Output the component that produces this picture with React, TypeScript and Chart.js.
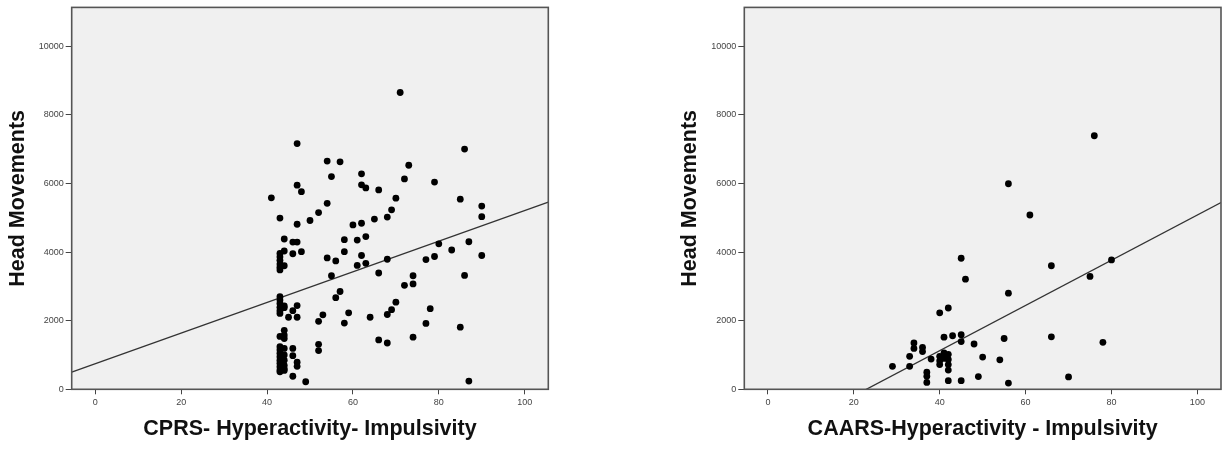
import React, { useEffect, useRef } from "react";
import { Chart, registerables } from "chart.js";

Chart.register(...registerables);

// ---- data ----
const X_TICKS = [0, 20, 40, 60, 80, 100];
const Y_TICKS = [0, 2000, 4000, 6000, 8000, 10000];
const X_RANGE = [-5.5, 105.5];
const Y_RANGE = [0, 11130];

const Y_TITLE = "Head Movements";
const CPRS_TITLE = "CPRS- Hyperactivity- Impulsivity";
const CAARS_TITLE = "CAARS-Hyperactivity - Impulsivity";

// regression fit lines: [intercept, slope]
const CPRS_FIT = [744, 44.67];
const CAARS_FIT = [-1510, 65.9];

const CPRS_POINTS: [number, number][] = [
  [41, 5580],
  [43, 4990], [43, 3960], [43, 3860], [43, 3760], [43, 3650], [43, 3560], [43, 3480],
  [43, 2700], [43, 2600], [43, 2500], [43, 2390], [43, 2290], [43, 2210],
  [43, 1540], [43, 1240], [43, 1150], [43, 1050], [43, 950], [43, 850], [43, 760], [43, 660], [43, 560], [43, 510],
  [44, 4380], [44, 4030], [44, 3600], [44, 2430], [44, 2380], [44, 1720], [44, 1580], [44, 1480],
  [44, 1190], [44, 1000], [44, 850], [44, 700], [44, 600], [44, 550],
  [45, 2100],
  [46, 4290], [46, 3950], [46, 2290], [46, 1190], [46, 980], [46, 380],
  [47, 7160], [47, 5950], [47, 4810], [47, 4290], [47, 2440], [47, 2100], [47, 790], [47, 670],
  [48, 5760], [48, 4010],
  [49, 220],
  [50, 4920],
  [52, 5150], [52, 1980], [52, 1310], [52, 1130],
  [53, 2170],
  [54, 6650], [54, 5420], [54, 3830],
  [55, 6200], [55, 3310],
  [56, 3740], [56, 2670],
  [57, 6630], [57, 2850],
  [58, 4360], [58, 4010], [58, 1930],
  [59, 2230],
  [60, 4790],
  [61, 4350], [61, 3610],
  [62, 6280], [62, 5960], [62, 4840], [62, 3900],
  [63, 5870], [63, 4450], [63, 3670],
  [64, 2100],
  [65, 4960],
  [66, 5810], [66, 3390], [66, 1440],
  [68, 5020], [68, 3790], [68, 2180], [68, 1350],
  [69, 5230], [69, 2320],
  [70, 5570], [70, 2540],
  [71, 8650],
  [72, 6130], [72, 3030],
  [73, 6530],
  [74, 3310], [74, 3070], [74, 1520],
  [77, 3780], [77, 1920],
  [78, 2350],
  [79, 6040], [79, 3870],
  [80, 4240],
  [83, 4060],
  [85, 5540], [85, 1810],
  [86, 7000], [86, 3320],
  [87, 4300], [87, 240],
  [90, 5340], [90, 5030], [90, 3900],
];

const CAARS_POINTS: [number, number][] = [
  [29, 670],
  [33, 960], [33, 670],
  [34, 1350], [34, 1190],
  [36, 1220], [36, 1100],
  [37, 500], [37, 380], [37, 200],
  [38, 880],
  [40, 2230], [40, 960], [40, 830], [40, 720],
  [41, 1520], [41, 1060], [41, 900],
  [42, 2370], [42, 1020], [42, 870], [42, 720], [42, 560], [42, 250],
  [43, 1560],
  [45, 3820], [45, 1590], [45, 1390], [45, 250],
  [46, 3210],
  [48, 1320],
  [49, 370],
  [50, 940],
  [54, 860],
  [55, 1480],
  [56, 5990], [56, 2800], [56, 180],
  [61, 5080],
  [66, 3600], [66, 1530],
  [70, 360],
  [75, 3290],
  [76, 7390],
  [78, 1370],
  [80, 3770],
];

// ---- chart setup ----
const FONT = "'Liberation Sans', Arial, Helvetica, sans-serif";

const plotFrame = {
  id: "plotFrame",
  beforeDraw(chart: any) {
    const { ctx, chartArea: a } = chart;
    ctx.save();
    ctx.fillStyle = "#f0f0f0";
    ctx.fillRect(a.left, a.top, a.right - a.left, a.bottom - a.top);
    ctx.restore();
  },
  afterDraw(chart: any) {
    const { ctx, chartArea: a } = chart;
    ctx.save();
    ctx.strokeStyle = "#555";
    ctx.lineWidth = 1.6;
    ctx.strokeRect(a.left, a.top, a.right - a.left, a.bottom - a.top);
    ctx.restore();
  },
};

function makeChart(
  canvas: HTMLCanvasElement,
  points: [number, number][],
  fit: number[],
  xTitle: string,
  padLeft: number,
  padRight: number
) {
  return new Chart(canvas, {
    type: "scatter",
    data: {
      datasets: [
        {
          type: "scatter",
          data: points.map(([x, y]) => ({ x, y })),
          backgroundColor: "#000",
          borderWidth: 0,
          pointRadius: 3.4,
          order: 1,
        } as any,
        {
          type: "line",
          data: X_RANGE.map((x) => ({ x, y: fit[0] + fit[1] * x })),
          borderColor: "#333",
          borderWidth: 1.3,
          pointRadius: 0,
          fill: false,
          order: 2,
        } as any,
      ],
    },
    options: {
      responsive: false,
      maintainAspectRatio: false,
      animation: false,
      layout: { padding: { left: padLeft, right: padRight, top: 7.3, bottom: 0 } },
      plugins: { legend: { display: false }, tooltip: { enabled: false } },
      scales: {
        x: {
          type: "linear",
          min: X_RANGE[0],
          max: X_RANGE[1],
          afterBuildTicks: (s: any) => {
            s.ticks = X_TICKS.map((v) => ({ value: v }));
          },
          afterFit: (s: any) => {
            s.height = 59.7;
          },
          grid: { drawOnChartArea: false, drawTicks: true, tickLength: 5, color: "#444", lineWidth: 1 },
          border: { display: false },
          ticks: {
            font: { family: FONT, size: 9 },
            color: "#444",
            padding: 3,
            maxRotation: 0,
            autoSkip: false,
            callback: (v: any) => String(v),
          },
          title: {
            display: true,
            text: xTitle,
            font: { family: FONT, size: 21.5, weight: "bold" },
            color: "#111",
            padding: { top: 0, bottom: 7 },
          },
        },
        y: {
          type: "linear",
          min: Y_RANGE[0],
          max: Y_RANGE[1],
          afterBuildTicks: (s: any) => {
            s.ticks = Y_TICKS.map((v) => ({ value: v }));
          },
          afterFit: (s: any) => {
            s.width = 71.7;
          },
          grid: { drawOnChartArea: false, drawTicks: true, tickLength: 6, color: "#444", lineWidth: 1 },
          border: { display: false },
          ticks: {
            font: { family: FONT, size: 9 },
            color: "#444",
            padding: 2,
            autoSkip: false,
            callback: (v: any) => String(v),
          },
          title: {
            display: true,
            text: Y_TITLE,
            font: { family: FONT, size: 21.5, weight: "bold" },
            color: "#111",
            padding: { top: 5, bottom: 0 },
          },
        },
      },
    } as any,
    plugins: [plotFrame],
  });
}

export default function App() {
  const leftRef = useRef<HTMLCanvasElement>(null);
  const rightRef = useRef<HTMLCanvasElement>(null);

  useEffect(() => {
    document.body.style.margin = "0";
    const c1 = makeChart(leftRef.current!, CPRS_POINTS, CPRS_FIT, CPRS_TITLE, 0, 66.7);
    const c2 = makeChart(rightRef.current!, CAARS_POINTS, CAARS_FIT, CAARS_TITLE, 57.6, 9);
    return () => {
      c1.destroy();
      c2.destroy();
    };
  }, []);

  return (
    <div
      style={{
        position: "absolute",
        left: 0,
        top: 0,
        width: 1230,
        height: 449,
        background: "#fff",
        overflow: "hidden",
      }}
    >
      <canvas
        ref={leftRef}
        width={615}
        height={449}
        style={{ position: "absolute", left: 0, top: 0, width: 615, height: 449 }}
      />
      <canvas
        ref={rightRef}
        width={615}
        height={449}
        style={{ position: "absolute", left: 615, top: 0, width: 615, height: 449 }}
      />
    </div>
  );
}
